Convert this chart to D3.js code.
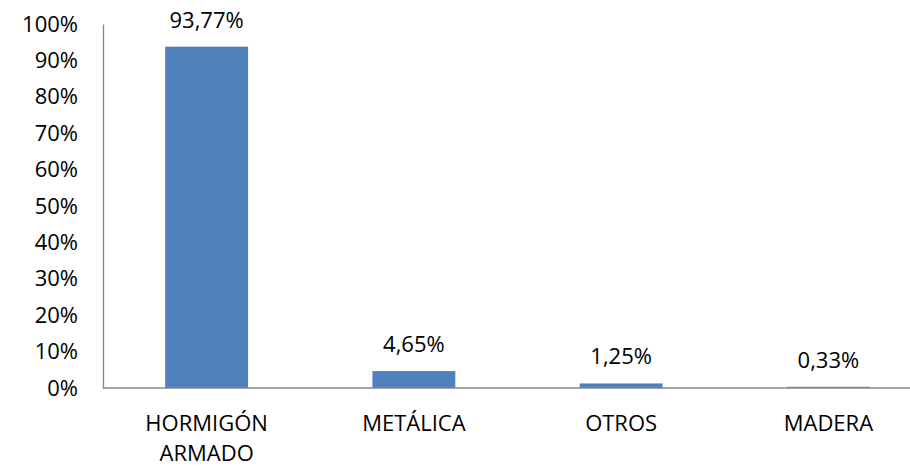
<!DOCTYPE html>
<html>
<head>
<meta charset="utf-8">
<script src="https://cdn.jsdelivr.net/npm/d3@7"></script>
<style>
  body { margin: 0; background: #fff; }
  svg { display: block; font-family: "Open Sans", "Noto Sans", sans-serif; }
</style>
</head>
<body>
<div id="chart"></div>
<script>
const categories = ["HORMIGÓN ARMADO", "METÁLICA", "OTROS", "MADERA"];
const values = [93.77, 4.65, 1.25, 0.33];
const valueLabels = ["93,77%", "4,65%", "1,25%", "0,33%"];
const yTicks = [0, 10, 20, 30, 40, 50, 60, 70, 80, 90, 100];

const width = 910, height = 467;
const plotLeft = 103, plotTop = 24, plotBottom = 388;
const fontSize = "22px";

const svg = d3.select("#chart").append("svg")
  .attr("width", width)
  .attr("height", height);

const x = d3.scaleBand()
  .domain(categories)
  .range([plotLeft, plotLeft + 4 * 207.25])
  .paddingInner(0.6)
  .paddingOuter(0.3);

const y = d3.scaleLinear()
  .domain([0, 100])
  .range([plotBottom, plotTop]);

// y axis
const yAxis = svg.append("g")
  .attr("transform", `translate(${plotLeft},0)`)
  .call(d3.axisLeft(y).tickValues(yTicks).tickSize(0).tickPadding(25)
    .tickFormat(d => d + "%"));
yAxis.select(".domain").attr("stroke", "#868686").attr("stroke-width", 1.3);
yAxis.selectAll("text")
  .style("font-size", fontSize)
  .style("font-family", "'Open Sans', sans-serif")
  .attr("fill", "#000");

// bars
svg.append("g")
  .selectAll("rect")
  .data(values)
  .join("rect")
  .attr("x", (d, i) => x(categories[i]))
  .attr("width", x.bandwidth())
  .attr("y", d => y(d))
  .attr("height", d => plotBottom - y(d))
  .attr("fill", "#4F81BD");

// x axis line
svg.append("line")
  .attr("x1", plotLeft).attr("x2", width)
  .attr("y1", plotBottom).attr("y2", plotBottom)
  .attr("stroke", "#868686").attr("stroke-width", 1.3);

// value labels
svg.append("g")
  .selectAll("text")
  .data(values)
  .join("text")
  .attr("x", (d, i) => x(categories[i]) + x.bandwidth() / 2)
  .attr("y", d => y(d) - 19)
  .attr("text-anchor", "middle")
  .style("font-size", fontSize)
  .attr("fill", "#000")
  .text((d, i) => valueLabels[i]);

// category labels
const catG = svg.append("g")
  .selectAll("text")
  .data(categories)
  .join("text")
  .attr("x", d => x(d) + x.bandwidth() / 2)
  .attr("y", 431)
  .attr("text-anchor", "middle")
  .style("font-size", fontSize)
  .attr("fill", "#000");

catG.each(function (d) {
  const words = d.length > 10 ? d.split(" ") : [d];
  const t = d3.select(this);
  words.forEach((w, i) => {
    t.append("tspan")
      .attr("x", t.attr("x"))
      .attr("dy", i === 0 ? 0 : 30)
      .text(w);
  });
});
</script>
</body>
</html>
